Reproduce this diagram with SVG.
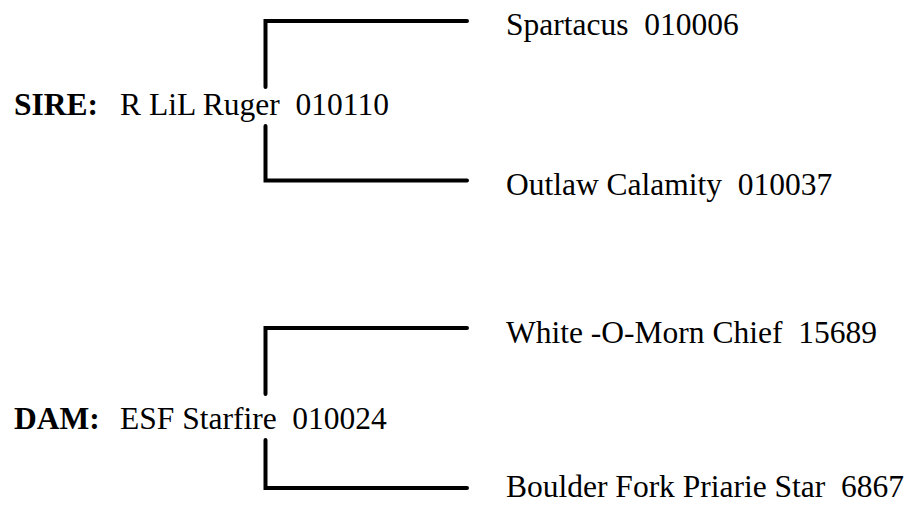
<svg xmlns="http://www.w3.org/2000/svg" width="911" height="506" viewBox="0 0 911 506">
<style>
text{font-family:"Liberation Serif","Times New Roman",serif;font-size:31.5px;fill:#000;white-space:pre}
.b{font-weight:bold}
.ln{fill:none;stroke:#000;stroke-width:4;stroke-linecap:round;stroke-linejoin:miter}
</style>
<rect width="911" height="506" fill="#fff"/>
<g id="connectors">
<path class="ln" d="M265.5,87 V21 H467"/>
<path class="ln" d="M265.5,126 V180.5 H467"/>
<path class="ln" d="M265.5,394 V328 H467"/>
<path class="ln" d="M265.5,440 V488 H467"/>
</g>
<g id="sire"><text class="b" x="14" y="115">SIRE:</text><text x="120" y="115">R LiL Ruger  010110</text></g>
<g id="sire-sire"><text x="506" y="35">Spartacus  010006</text></g>
<g id="sire-dam"><text x="506" y="195">Outlaw Calamity  010037</text></g>
<g id="dam"><text class="b" x="14" y="429">DAM:</text><text x="120" y="429">ESF Starfire  010024</text></g>
<g id="dam-sire"><text x="506" y="343">White -O-Morn Chief  15689</text></g>
<g id="dam-dam"><text x="506" y="497">Boulder Fork Priarie Star  6867</text></g>
</svg>
